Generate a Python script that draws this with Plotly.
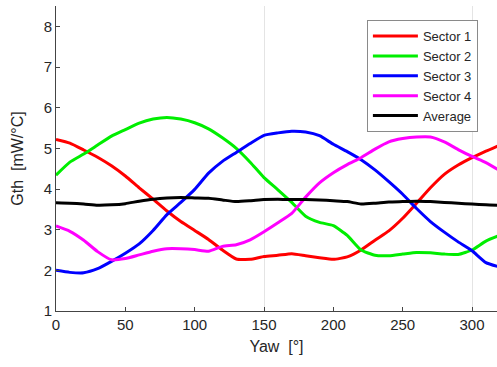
import plotly.graph_objects as go

yaw = list(range(0, 330, 10))

sector1 = [5.22, 5.13, 4.96, 4.78, 4.57, 4.32, 4.03, 3.75, 3.46, 3.20, 2.98, 2.76, 2.50, 2.28, 2.27,
           2.34, 2.37, 2.41, 2.36, 2.31, 2.27, 2.33, 2.50, 2.74, 2.97, 3.28, 3.65, 4.03, 4.36, 4.59,
           4.77, 4.93, 5.08]
sector2 = [4.34, 4.66, 4.86, 5.08, 5.30, 5.46, 5.62, 5.72, 5.76, 5.72, 5.63, 5.48, 5.26, 5.00, 4.66,
           4.28, 3.98, 3.67, 3.33, 3.18, 3.10, 2.86, 2.50, 2.37, 2.36, 2.40, 2.44, 2.43, 2.40, 2.39,
           2.50, 2.72, 2.86]
sector3 = [2.00, 1.95, 1.94, 2.04, 2.22, 2.42, 2.65, 2.98, 3.37, 3.67, 3.99, 4.39, 4.68, 4.90, 5.12,
           5.32, 5.38, 5.42, 5.40, 5.31, 5.10, 4.92, 4.72, 4.47, 4.18, 3.87, 3.52, 3.20, 2.94, 2.70,
           2.48, 2.19, 2.08]
sector4 = [3.09, 2.96, 2.74, 2.46, 2.26, 2.29, 2.38, 2.47, 2.53, 2.53, 2.51, 2.47, 2.59, 2.63, 2.75,
           2.95, 3.17, 3.40, 3.80, 4.15, 4.40, 4.60, 4.77, 4.98, 5.16, 5.24, 5.28, 5.28, 5.16, 4.97,
           4.80, 4.65, 4.45]
average = [3.66, 3.65, 3.63, 3.60, 3.61, 3.64, 3.70, 3.75, 3.78, 3.79, 3.78, 3.77, 3.73, 3.69, 3.71,
           3.74, 3.75, 3.74, 3.74, 3.73, 3.71, 3.69, 3.63, 3.65, 3.68, 3.69, 3.70, 3.69, 3.67, 3.65,
           3.63, 3.61, 3.60]

names = ["Sector 1", "Sector 2", "Sector 3", "Sector 4", "Average"]
colors = ["#ff0000", "#00ee00", "#0000ff", "#ff00ff", "#000000"]
series = [sector1, sector2, sector3, sector4, average]

x_ticks = [0, 50, 100, 150, 200, 250, 300]
y_ticks = [1, 2, 3, 4, 5, 6, 7, 8]
grid_x = [150, 300]

fig = go.Figure()
for n, c, s in zip(names, colors, series):
    fig.add_trace(go.Scatter(x=yaw, y=s, name=n, mode="lines",
                             line=dict(color=c, width=3, shape="spline", smoothing=0.5)))

# invisible trace to carry the secondary x axis (grid lines)
fig.add_trace(go.Scatter(x=[None], y=[None], xaxis="x2", showlegend=False, hoverinfo="skip"))

font_fam = "Liberation Sans, Arial, sans-serif"
fig.update_layout(
    width=497, height=367,
    margin=dict(l=56, r=0, t=6, b=56),
    paper_bgcolor="white", plot_bgcolor="white",
    font=dict(family=font_fam, color="#262626"),
    xaxis=dict(range=[0, 318], tickvals=x_ticks, ticks="inside", ticklen=4, tickcolor="#444",
               showline=True, linecolor="#444", linewidth=1, showgrid=False, zeroline=False,
               tickfont=dict(size=15), title=dict(text="Yaw  [°]", font=dict(size=16), standoff=8)),
    xaxis2=dict(range=[0, 318], overlaying="x", tickvals=grid_x, showgrid=True, gridcolor="#e4e4e4",
                gridwidth=1, showticklabels=False, ticks="", zeroline=False, showline=False),
    yaxis=dict(range=[1, 8.5], tickvals=y_ticks, ticks="inside", ticklen=4, tickcolor="#444",
               showline=True, linecolor="#444", linewidth=1, showgrid=False, zeroline=False,
               tickfont=dict(size=15), title=dict(text="Gth  [mW/°C]", font=dict(size=16), standoff=16)),
    legend=dict(x=0.705, y=0.954, xanchor="left", yanchor="top", bgcolor="white",
                bordercolor="#8a8a8a", borderwidth=1, font=dict(size=13, color="#262626"),
                tracegroupgap=0, itemwidth=45),
    showlegend=True,
)

fig.write_html("out.html")
